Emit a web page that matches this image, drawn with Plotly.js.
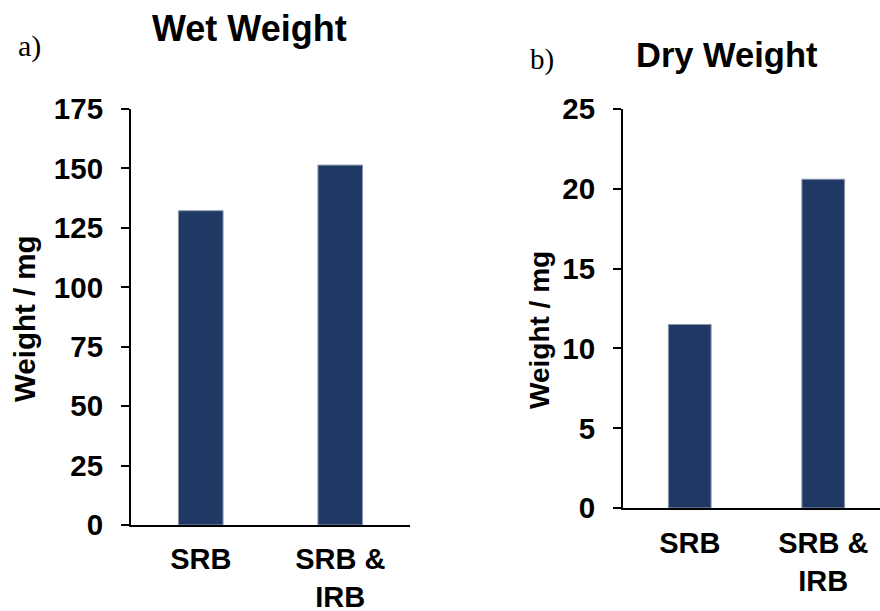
<!DOCTYPE html>
<html>
<head>
<meta charset="utf-8">
<script src="https://cdn.plot.ly/plotly-3.0.1.min.js"></script>
<style>html,body{margin:0;padding:0;background:#fff;}#chart{width:880px;height:611px;}</style>
</head>
<body>
<div id="chart"></div>
<script>
// Data
const categories = ["SRB", "SRB & IRB"];
const categoryLabels = ["SRB", "SRB &<br>IRB"];
const wetWeight = [132.2, 151.4];
const dryWeight = [11.5, 20.6];
const wetTicks = [0, 25, 50, 75, 100, 125, 150, 175];
const dryTicks = [0, 5, 10, 15, 20, 25];
const panelTitles = ["Wet Weight", "Dry Weight"];
const panelLabels = ["a)", "b)"];
const yTitle = "Weight / mg";

const W = 880, H = 611;
const px = v => v / W;
const py = v => (H - v) / H;

const barColor = "#203864";
const sans = "Liberation Sans, Arial, sans-serif";
const serif = "Liberation Serif, Times New Roman, serif";

const traces = [
  {type: "bar", x: categories, y: wetWeight, xaxis: "x", yaxis: "y",
   marker: {color: barColor, line: {color: "#8d98ae", width: 1}}, hoverinfo: "x+y"},
  {type: "bar", x: categories, y: dryWeight, xaxis: "x2", yaxis: "y2",
   marker: {color: barColor, line: {color: "#8d98ae", width: 1}}, hoverinfo: "x+y"}
];

const tickFont = {family: sans, size: 29.5, color: "#000", weight: "bold"};
const xTickFont = {family: sans, size: 29, color: "#000", weight: "bold"};
const axTitleFont = {family: sans, size: 29.5, color: "#000", weight: "bold"};

function xAxis(domain, range, standoff) {
  return {
    domain: domain, range: range, type: "category",
    tickvals: categories, ticktext: categoryLabels,
    showline: true, linecolor: "#000", linewidth: 2,
    ticks: "", showgrid: false, zeroline: false,
    tickfont: xTickFont, ticklabelstandoff: standoff, fixedrange: true
  };
}
function yAxis(domain, range, ticks, anchor) {
  return {
    domain: domain, range: range, anchor: anchor,
    tickvals: ticks, showline: true, linecolor: "#000", linewidth: 2,
    ticks: "outside", ticklen: 8, tickwidth: 2, tickcolor: "#000",
    showgrid: false, zeroline: false, tickfont: tickFont,
    ticklabelstandoff: 12, fixedrange: true
  };
}

const layout = {
  width: W, height: H,
  margin: {l: 0, r: 0, t: 0, b: 0, pad: 0},
  paper_bgcolor: "#fff", plot_bgcolor: "#fff",
  showlegend: false, bargap: 0.68,
  xaxis: xAxis([px(131), px(410)], [-0.5, 1.5], 7),
  yaxis: yAxis([py(525), py(109)], [0, 175], wetTicks, "x"),
  xaxis2: Object.assign(xAxis([px(623), 1], [-0.5, 1.425], 8), {anchor: "y2"}),
  yaxis2: yAxis([py(508), py(109)], [0, 25], dryTicks, "x2"),
  annotations: [
    {text: panelTitles[0], xref: "paper", yref: "paper", x: px(249), y: py(28),
     xanchor: "center", yanchor: "middle", showarrow: false,
     font: {family: sans, size: 36, color: "#000", weight: "bold"}},
    {text: panelTitles[1], xref: "paper", yref: "paper", x: px(727), y: py(55),
     xanchor: "center", yanchor: "middle", showarrow: false,
     font: {family: sans, size: 34.5, color: "#000", weight: "bold"}},
    {text: panelLabels[0], xref: "paper", yref: "paper", x: px(30), y: py(46),
     xanchor: "center", yanchor: "middle", showarrow: false,
     font: {family: serif, size: 30, color: "#000"}},
    {text: panelLabels[1], xref: "paper", yref: "paper", x: px(542), y: py(60),
     xanchor: "center", yanchor: "middle", showarrow: false,
     font: {family: serif, size: 29, color: "#000"}},
    {text: yTitle, xref: "paper", yref: "paper", x: px(24), y: py(319),
     xanchor: "center", yanchor: "middle", textangle: -90, showarrow: false,
     font: axTitleFont},
    {text: yTitle, xref: "paper", yref: "paper", x: px(540), y: py(330),
     xanchor: "center", yanchor: "middle", textangle: -90, showarrow: false,
     font: {family: sans, size: 28, color: "#000", weight: "bold"}}
  ]
};

Plotly.newPlot("chart", traces, layout, {staticPlot: true, displayModeBar: false});
</script>
</body>
</html>
